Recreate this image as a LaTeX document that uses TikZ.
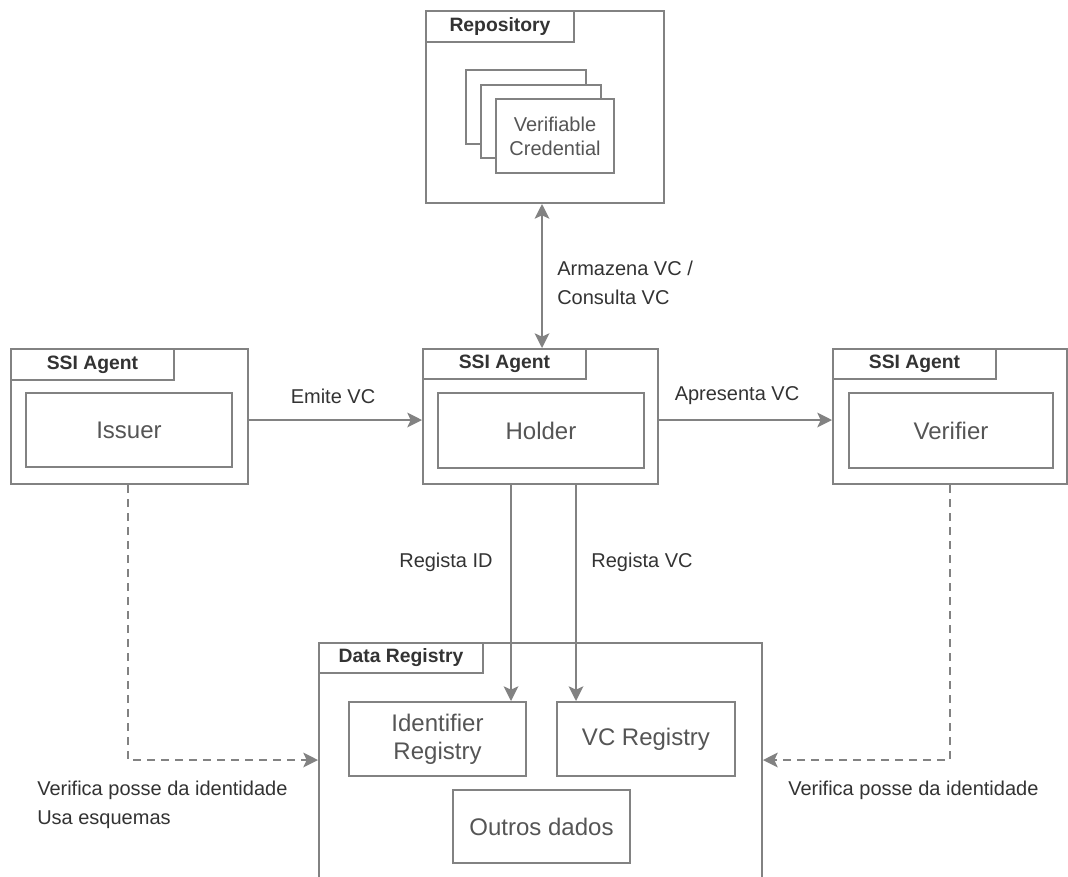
\documentclass[tikz,border=0pt]{standalone}
\usepackage{fontspec}
\setmainfont{Liberation Sans}
\usetikzlibrary{arrows.meta}
\definecolor{linegray}{HTML}{828282}
\definecolor{txtgray}{HTML}{333333}
\definecolor{boxtxt}{HTML}{555555}
\tikzset{
  frame/.style={draw=linegray, line width=1.5pt, rectangle, inner sep=0pt, anchor=north west, fill=white},
  tabbox/.style={frame, font=\bfseries\fontsize{14.5}{17}\selectfont, text=txtgray},
  inbox/.style={frame, font=\fontsize{18}{21}\selectfont, text=boxtxt, align=center},
  card/.style={frame, font=\fontsize{15}{18}\selectfont, text=boxtxt, align=center},
  tip/.tip={Stealth[length=11pt,width=11pt,inset=2.5pt]},
  flow/.style={draw=linegray, line width=1.5pt, -tip},
  dflow/.style={flow, dash pattern=on 6pt off 4.5pt},
  lbl/.style={font=\fontsize{15}{22}\selectfont, text=txtgray, inner sep=0pt}
}
\begin{document}
\begin{tikzpicture}[x=0.75pt,y=-0.75pt]
\useasboundingbox (0,0) rectangle (1068,876);
\fill[white] (0,0) rectangle (1068,876);

% Repository with stacked credentials
\node[frame, minimum width=238*0.75pt, minimum height=192*0.75pt] (repo) at (425,10) {};
\node[tabbox, minimum width=148*0.75pt, minimum height=31*0.75pt] (repotab) at (425,10) {Repository};
\node[frame, minimum width=120*0.75pt, minimum height=74*0.75pt] (cardA) at (465,69) {};
\node[frame, minimum width=120*0.75pt, minimum height=73*0.75pt] (cardB) at (480,84) {};
\node[card, minimum width=118*0.75pt, minimum height=74*0.75pt] (cardC) at (495,98) {Verifiable\\Credential};

% SSI agents
\node[frame, minimum width=237*0.75pt, minimum height=135*0.75pt] (issuerAgent) at (10,348) {};
\node[tabbox, minimum width=163*0.75pt, minimum height=31*0.75pt] (issuerTab) at (10,348) {SSI Agent};
\node[inbox, minimum width=206*0.75pt, minimum height=74*0.75pt] (issuer) at (25,392) {Issuer};

\node[frame, minimum width=235*0.75pt, minimum height=135*0.75pt] (holderAgent) at (422,348) {};
\node[tabbox, minimum width=163*0.75pt, minimum height=30*0.75pt] (holderTab) at (422,348) {SSI Agent};
\node[inbox, minimum width=206*0.75pt, minimum height=75*0.75pt] (holder) at (437,392) {Holder};

\node[frame, minimum width=234*0.75pt, minimum height=135*0.75pt] (verifierAgent) at (832,348) {};
\node[tabbox, minimum width=163*0.75pt, minimum height=30*0.75pt] (verifierTab) at (832,348) {SSI Agent};
\node[inbox, minimum width=204*0.75pt, minimum height=75*0.75pt] (verifier) at (848,392) {Verifier};

% Data registry (runs past the lower edge)
\begin{scope}
\clip (0,0) rectangle (1068,876);
\node[frame, minimum width=443*0.75pt, minimum height=260*0.75pt] (dataReg) at (318,642) {};
\end{scope}
\node[tabbox, minimum width=164*0.75pt, minimum height=30*0.75pt] (dataTab) at (318,642) {Data Registry};
\node[inbox, minimum width=177*0.75pt, minimum height=74*0.75pt] (idReg) at (348,701) {Identifier\\Registry};
\node[inbox, minimum width=178*0.75pt, minimum height=74*0.75pt] (vcReg) at (556,701) {VC Registry};
\node[inbox, minimum width=177*0.75pt, minimum height=73*0.75pt] (outros) at (452,789) {Outros dados};

% Connectors
\coordinate (repoX) at (542,0);
\coordinate (rowY) at (0,420);
\coordinate (ridX) at (511,0);
\coordinate (rvcX) at (576,0);
\coordinate (issX) at (128,0);
\coordinate (verX) at (950,0);
\coordinate (dashY) at (0,760);

\draw[flow] (issuerAgent.east |- rowY) -- (holderAgent.west |- rowY);
\draw[flow] (holderAgent.east |- rowY) -- (verifierAgent.west |- rowY);
\draw[flow, tip-tip] (repo.south -| repoX) -- (holderAgent.north -| repoX);
\draw[flow] (holderAgent.south -| ridX) -- (idReg.north -| ridX);
\draw[flow] (holderAgent.south -| rvcX) -- (vcReg.north -| rvcX);
\draw[dflow] (issuerAgent.south -| issX) |- (dataReg.west |- dashY);
\draw[dflow] (verifierAgent.south -| verX) |- (dataReg.east |- dashY);

% Labels
\node[lbl] (lEmite) at (333,396) {Emite VC};
\node[lbl] (lApres) at (737,396) {Apresenta VC};
\node[lbl, anchor=west, align=left] (lArm) at (557,283) {Armazena VC /\\Consulta VC};
\node[lbl] (lRid) at (446,562) {Regista ID};
\node[lbl] (lRvc) at (642,562) {Regista VC};
\node[lbl, anchor=north west, align=left, font=\fontsize{15}{21.75}\selectfont] (lLeft) at (37,781) {Verifica posse da identidade\\Usa esquemas};
\node[lbl, anchor=north west] (lRight) at (788,781) {Verifica posse da identidade};
\end{tikzpicture}
\end{document}
